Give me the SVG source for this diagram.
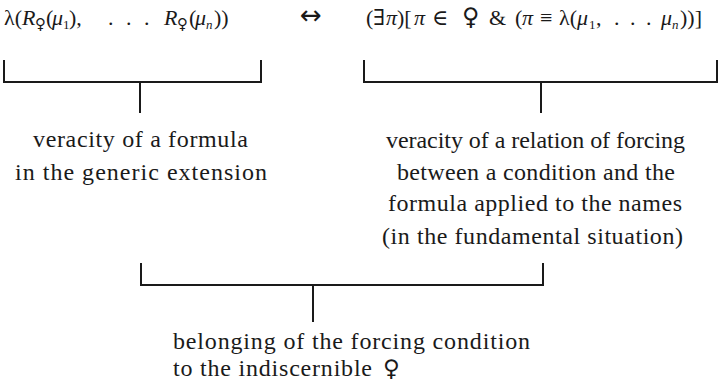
<svg xmlns="http://www.w3.org/2000/svg" width="719" height="392" viewBox="0 0 719 392">
<style>
.t{font-family:"Liberation Serif","DejaVu Serif",serif;font-size:24px;fill:#1a1a1a}
.f{font-family:"Liberation Serif","DejaVu Serif",serif;font-size:22px;fill:#1a1a1a}
.i{font-style:italic}
.s{font-size:13px}
.v{font-family:"DejaVu Sans",sans-serif}
.br{fill:none;stroke:#1a1a1a;stroke-width:2}
</style>
<rect width="719" height="392" fill="#ffffff"/>
<g id="formula-left" class="f">
<text y="25"><tspan x="4">λ(</tspan><tspan x="22" class="i">R</tspan><tspan x="35" y="29" class="v" style="font-size:15px">♀</tspan><tspan x="46" y="25">(</tspan><tspan x="52" class="i">μ</tspan><tspan x="63" y="29" class="s">1</tspan><tspan x="69" y="25">),</tspan><tspan x="108">.</tspan><tspan x="126">.</tspan><tspan x="144">.</tspan><tspan x="164" class="i">R</tspan><tspan x="177" y="29" class="v" style="font-size:15px">♀</tspan><tspan x="189" y="25">(</tspan><tspan x="195" class="i">μ</tspan><tspan x="206" y="29" class="s i">n</tspan><tspan x="214" y="25">))</tspan></text>
</g>
<g id="arrow">
<text x="300" y="24" class="v" style="font-size:26px;fill:#1a1a1a">↔</text>
</g>
<g id="formula-right" class="f">
<text y="25"><tspan x="366">(∃</tspan><tspan x="386" class="i">π</tspan><tspan x="397">)[</tspan><tspan x="414" class="i">π</tspan><tspan x="432">∈</tspan><tspan x="462" class="v" style="font-size:24px">♀</tspan><tspan x="489">&amp;</tspan><tspan x="515">(</tspan><tspan x="522" class="i">π</tspan><tspan x="540">≡</tspan><tspan x="559">λ(</tspan><tspan x="577" class="i">μ</tspan><tspan x="589" y="29" class="s">1</tspan><tspan x="596" y="25">,</tspan><tspan x="614">.</tspan><tspan x="630">.</tspan><tspan x="646">.</tspan><tspan x="661" class="i">μ</tspan><tspan x="672" y="29" class="s i">n</tspan><tspan x="680" y="25">))]</tspan></text>
</g>
<g id="connectors">
<path class="br" d="M4,60 V82 H261 V60 M140,82 V113"/>
<path class="br" d="M364,60 V82 H717 V60 M541,82 V113"/>
<path class="br" d="M141,263 V285 H543 V263 M313,285 V322"/>
</g>
<g id="label-left" class="t" text-anchor="middle">
<text x="140.5" y="147" textLength="215" lengthAdjust="spacing">veracity of a formula</text>
<text x="141" y="180" textLength="252" lengthAdjust="spacing">in the generic extension</text>
</g>
<g id="label-right" class="t" text-anchor="middle">
<text x="535.5" y="148" textLength="299" lengthAdjust="spacing">veracity of a relation of forcing</text>
<text x="536" y="180" textLength="278" lengthAdjust="spacing">between a condition and the</text>
<text x="535" y="211" textLength="294" lengthAdjust="spacing">formula applied to the names</text>
<text x="532.5" y="244" textLength="301" lengthAdjust="spacing">(in the fundamental situation)</text>
</g>
<g id="label-bottom" class="t">
<text x="173" y="349" textLength="357" lengthAdjust="spacing">belonging of the forcing condition</text>
<text y="376"><tspan x="173" textLength="199" lengthAdjust="spacing">to the indiscernible</tspan><tspan x="383" class="v" style="font-size:23px">♀</tspan></text>
</g>
</svg>
